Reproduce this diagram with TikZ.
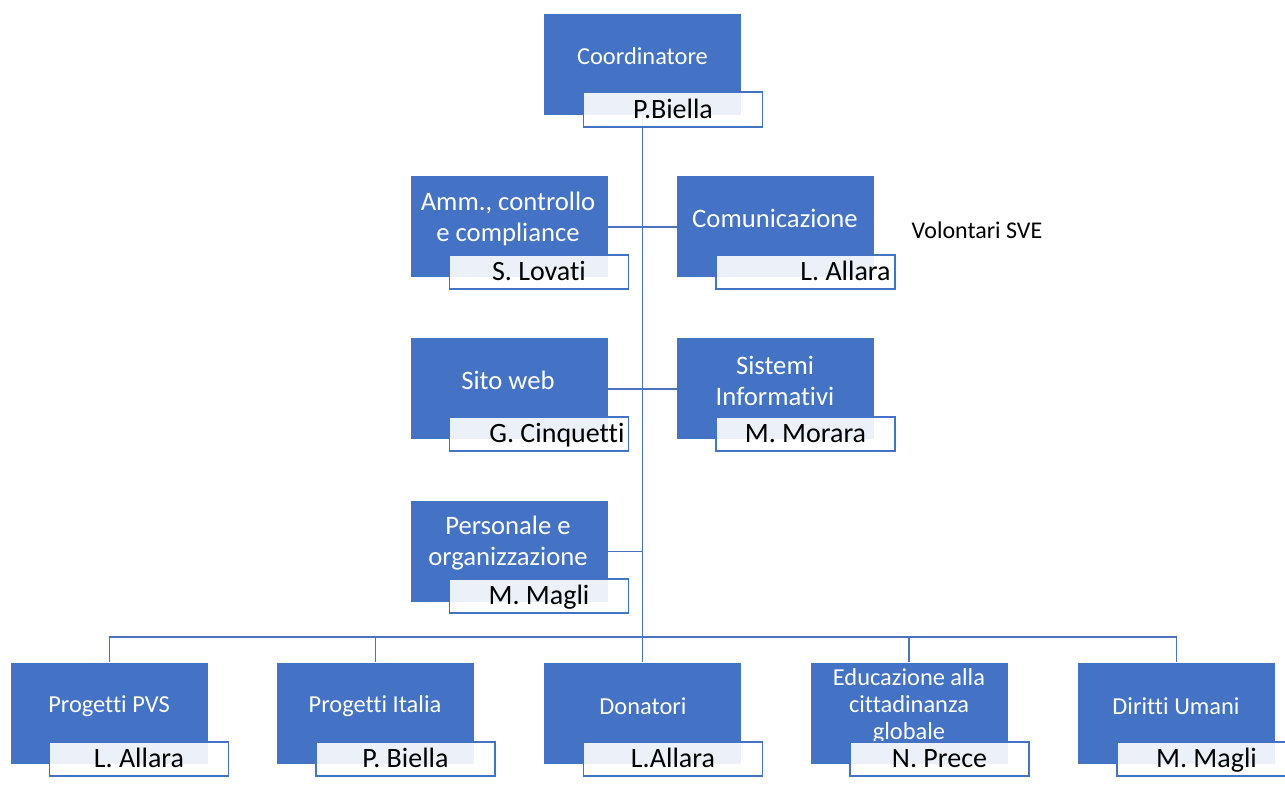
\documentclass[tikz,border=0pt]{standalone}
\usepackage{fontspec}
\setmainfont[Ligatures={NoCommon,NoContextual},RawFeature={-liga;-clig;-calt;-dlig;-rlig}]{Carlito}
\definecolor{ppblue}{HTML}{4472C4}
\definecolor{lineblue}{HTML}{4A72BE}
\begin{document}
\begin{tikzpicture}[x=0.75pt,y=-0.75pt,
  bluebox/.style={fill=ppblue,draw=none,minimum width=147.75pt,minimum height=75.75pt,inner sep=0pt},
  namebox/.style={draw=ppblue,line width=1.35pt,fill=white,fill opacity=0.9,text opacity=1,
    minimum width=134.25pt,minimum height=26pt,inner sep=0pt,text height=13.2pt,text depth=0pt,
    font=\fontsize{21}{24}\selectfont},
  lblA/.style={text=white,align=center,inner sep=0pt,font=\fontsize{20}{23}\selectfont},
  lblB/.style={text=white,align=center,inner sep=0pt,font=\fontsize{18.3}{20.5}\selectfont},
  conn/.style={draw=lineblue,line width=1.4pt}]
\useasboundingbox (0,0) rectangle (1285,787);
% blue boxes
\node[bluebox] (coord) at (642.5,64.5) {};
\node[bluebox] (amm) at (509.5,227) {};
\node[bluebox] (com) at (775.5,227) {};
\node[bluebox] (sito) at (509.5,389) {};
\node[bluebox] (sis) at (775.5,389) {};
\node[bluebox] (pers) at (509.5,551.5) {};
\node[bluebox] (pvs) at (109.5,713) {};
\node[bluebox] (ita) at (375.5,713) {};
\node[bluebox] (don) at (642.5,713) {};
\node[bluebox] (edu) at (909,713) {};
\node[bluebox] (dir) at (1176.5,713) {};
% connectors
\coordinate (busC) at (642.5,637);
\draw[conn] (coord.south) -- (busC);
\draw[conn] (amm.east) -- (com.west);
\draw[conn] (sito.east) -- (sis.west);
\draw[conn] (pers.east) -- (pers.east -| busC);
\draw[conn] (pvs.north) |- (dir.north |- busC) -- (dir.north);
\draw[conn] (ita.north) -- (ita.north |- busC);
\draw[conn] (don.north) -- (don.north |- busC);
\draw[conn] (edu.north) -- (edu.north |- busC);
% labels
\node[lblB] (coordT) at (642.5,56) {Coordinatore};
\node[lblA] (ammT) at (508,219) {Amm., controllo\\e compliance};
\node[lblA] (comT) at (775,218) {Comunicazione};
\node[lblA] (sitoT) at (508,380) {Sito web};
\node[lblA] (sisT) at (775,381) {Sistemi\\Informativi};
\node[lblA] (persT) at (508,543) {Personale e\\organizzazione};
\node[lblB] (pvsT) at (109,706) {Progetti PVS};
\node[lblB] (itaT) at (375,706) {Progetti Italia};
\node[lblB] (donT) at (643,706) {Donatori};
\node[lblB] (eduT) at (909,706) {Educazione alla\\cittadinanza\\globale};
\node[lblB] (dirT) at (1176,706) {Diritti Umani};
% name boxes
\node[namebox] (coordN) at (673,109.5) {P.Biella};
\node[namebox] (ammN) at (539,272) {S. Lovati};
\node[namebox] (comN) at (805.5,272) {\hspace*{60pt}L. Allara};
\node[namebox] (sitoN) at (539,434) {\hspace*{27pt}G. Cinquetti};
\node[namebox] (sisN) at (805.5,434) {M. Morara};
\node[namebox] (persN) at (539,596) {M. Magli};
\node[namebox] (pvsN) at (139,759) {L. Allara};
\node[namebox] (itaN) at (405.5,759) {P. Biella};
\node[namebox] (donN) at (673,759) {L.Allara};
\node[namebox] (eduN) at (939.5,759) {N. Prece};
\node[namebox] (dirN) at (1206.5,759) {M. Magli};
% side text
\node[inner sep=0pt,font=\fontsize{18}{22}\selectfont] (sve) at (977,230) {Volontari SVE};
\end{tikzpicture}
\end{document}
